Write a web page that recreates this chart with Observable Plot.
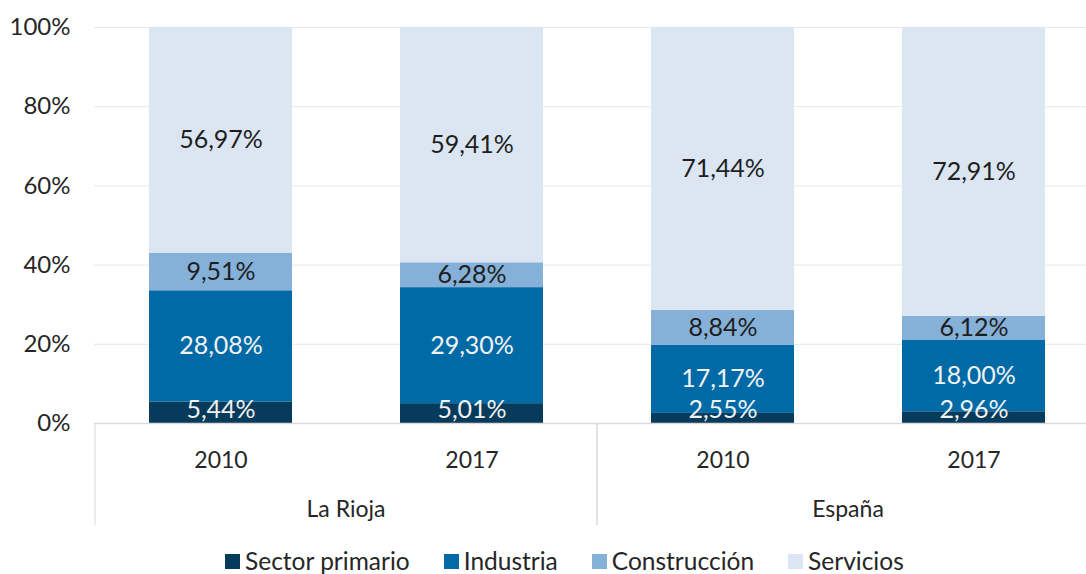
<!DOCTYPE html>
<html>
<head>
<meta charset="utf-8">
<script src="https://cdn.jsdelivr.net/npm/d3@7"></script>
<script src="https://cdn.jsdelivr.net/npm/@observablehq/plot@0.6"></script>
<style>
  html, body { margin: 0; padding: 0; background: #fff; }
  body { width: 1086px; height: 574px; overflow: hidden; font-family: Lato, "Open Sans", sans-serif; }
  #chart svg { display: block; }
  #legend { display: flex; gap: 34px; padding-left: 225px; margin-top: 3px; height: 28px; line-height: 28px; align-items: center; font-size: 24.5px; color: #262626; }
  #legend .item { display: flex; align-items: center; gap: 5px; white-space: nowrap; }
  #legend .sw { width: 15px; height: 15px; display: inline-block; }
</style>
</head>
<body>
<div id="chart"></div>
<div id="legend"></div>
<script>
// ---- data ----
const regions = ["La Rioja", "La Rioja", "España", "España"];
const years = ["2010", "2017", "2010", "2017"];
const sectors = ["Sector primario", "Industria", "Construcción", "Servicios"];
const primario = [5.44, 5.01, 2.55, 2.96];
const industria = [28.08, 29.30, 17.17, 18.00];
const construccion = [9.51, 6.28, 8.84, 6.12];
const servicios = [56.97, 59.41, 71.44, 72.91];
const yTicks = [0, 20, 40, 60, 80, 100];
const colors = ["#073b5b", "#006aa7", "#85b1d9", "#dce6f2"];
const textColors = ["#f2f2f2", "#f2f2f2", "#1e1e1e", "#1e1e1e"];

const series = [primario, industria, construccion, servicios];
const keys = regions.map((r, i) => r + "|" + years[i]);
const groups = Array.from(new Set(regions));
const data = [];
sectors.forEach((s, si) => {
  series[si].forEach((v, i) => {
    data.push({key: keys[i], region: regions[i], year: years[i], sector: s, value: v});
  });
});
const fmt = v => v.toFixed(2).replace(".", ",") + "%";

const W = 1086, H = 544;
const FONT = "Lato, 'Open Sans', sans-serif";

const separators = (index, scales) => {
  const x = scales.x, y = scales.y;
  const step = x(keys[1]) - x(keys[0]);
  const bw = typeof x.bandwidth === "function" ? x.bandwidth() : step * (1 - 0.43);
  const half = (step - bw) / 2;
  const g = d3.create("svg:g");
  const y0 = y(0);
  groups.forEach(gr => {
    const ks = keys.filter((k, i) => regions[i] === gr);
    const left = x(ks[0]) - half;
    const right = x(ks[ks.length - 1]) + bw + half;
    g.append("line").attr("x1", left).attr("x2", left).attr("y1", y0).attr("y2", y0 + 102)
      .attr("stroke", "#d9d9d9").attr("stroke-width", 1);
    g.append("line").attr("x1", right).attr("x2", right).attr("y1", y0).attr("y2", y0 + 102)
      .attr("stroke", "#d9d9d9").attr("stroke-width", 1);
    g.append("text").attr("x", (left + right) / 2).attr("y", y0 + 94)
      .attr("text-anchor", "middle").attr("font-size", 23).attr("font-family", FONT)
      .attr("fill", "#262626").text(gr);
  });
  return g.node();
};

const chart = Plot.plot({
  width: W,
  height: H,
  marginTop: 27,
  marginBottom: H - 423,
  marginLeft: 94,
  marginRight: 0,
  style: {fontFamily: FONT, background: "#fff", overflow: "hidden"},
  x: {type: "band", domain: keys, range: [94, 1100], paddingInner: 0.43, paddingOuter: 0.215, axis: null, label: null},
  y: {domain: [0, 100], axis: null, label: null},
  color: {domain: sectors, range: colors},
  marks: [
    Plot.gridY(yTicks, {stroke: "#e6e6e6", strokeOpacity: 1, strokeWidth: 1}),
    Plot.barY(data, {x: "key", y: "value", fill: "sector", order: sectors}),
    Plot.ruleY([0], {stroke: "#d9d9d9", strokeWidth: 1.5}),
    Plot.axisY(yTicks, {tickSize: 0, tickPadding: 24, tickFormat: d => d + "%", fontSize: 24, fill: "#262626", label: null}),
    Plot.axisX(keys, {tickSize: 0, tickPadding: 28, tickFormat: d => d.split("|")[1], fontSize: 23, fill: "#262626", label: null}),
    Plot.text(data, Plot.stackY({
      x: "key", y: "value", z: "sector", order: sectors,
      text: d => d.sector === sectors[0] ? null : fmt(d.value), fontSize: 25,
      fill: d => textColors[sectors.indexOf(d.sector)]
    })),
    Plot.text(data.filter(d => d.sector === sectors[0]), {
      x: "key", y: d => Math.max(d.value / 2, 3.4), text: d => fmt(d.value), fontSize: 25, fill: textColors[0]
    }),
    separators
  ]
});
document.getElementById("chart").appendChild(chart);

const legend = document.getElementById("legend");
sectors.forEach((s, i) => {
  const it = document.createElement("div");
  it.className = "item";
  const sw = document.createElement("span");
  sw.className = "sw";
  sw.style.background = colors[i];
  const t = document.createElement("span");
  t.textContent = s;
  it.appendChild(sw); it.appendChild(t);
  legend.appendChild(it);
});
</script>
</body>
</html>
